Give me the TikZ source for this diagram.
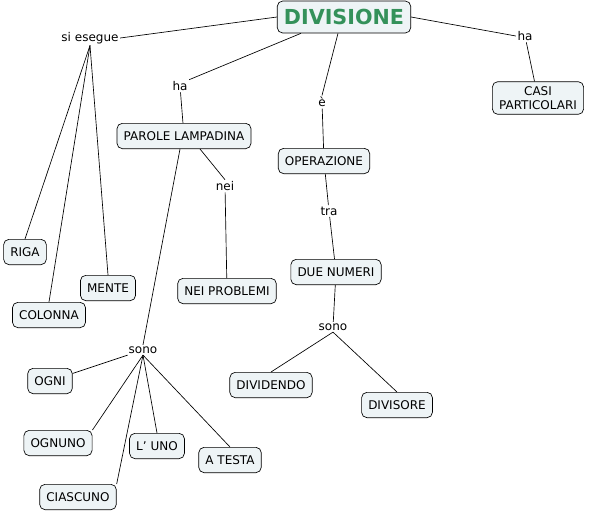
\documentclass[tikz,border=0pt]{standalone}
\usepackage{fontspec}
\setmainfont{DejaVu Sans}[Ligatures=ResetAll]
\definecolor{boxfill}{RGB}{238,244,246}
\definecolor{titlegreen}{RGB}{52,145,90}
\tikzset{
    concept/.style={draw, rounded corners=4pt, fill=boxfill, inner xsep=5pt, minimum height=19pt, font=\fontsize{9}{11}\selectfont, align=center},
    topbox/.style={concept, inner xsep=5pt, minimum height=24pt, font=\fontsize{15.5}{18}\bfseries\selectfont, text=titlegreen},
    link/.style={inner sep=1pt, fill=white, font=\fontsize{9}{11}\selectfont}
}
\begin{document}
\begin{tikzpicture}[x=0.75pt, y=-0.75pt, line width=0.5pt]
        \useasboundingbox (0,0) rectangle (592,512);
        % concetti
        \draw (344,17)node[topbox,name=div]{DIVISIONE};
        \draw (538,98)node[concept,name=casi]{CASI\\PARTICOLARI};
        \draw (184,136)node[concept,name=parole]{PAROLE LAMPADINA};
        \draw (324,161)node[concept,name=oper]{OPERAZIONE};
        \draw (336,272)node[concept,name=numeri]{DUE NUMERI};
        \draw (227,291)node[concept,name=problemi]{NEI PROBLEMI};
        \draw (25,252)node[concept,name=riga]{RIGA};
        \draw (108,288)node[concept,name=mente]{MENTE};
        \draw (49,315)node[concept,name=colonna]{COLONNA};
        \draw (50,381)node[concept,name=ogni]{OGNI};
        \draw (271,385)node[concept,name=dividendo]{DIVIDENDO};
        \draw (397,405)node[concept,name=divisore]{DIVISORE};
        \draw (58,443)node[concept,name=ognuno]{OGNUNO};
        \draw (157,446)node[concept,name=luno]{L' UNO};
        \draw (230,460)node[concept,name=atesta]{A TESTA};
        \draw (78,497)node[concept,name=ciascuno]{CIASCUNO};
        % parole di legame
        \draw (90,38)node[link,name=esegue]{si esegue};
        \draw (525,36)node[link,name=haR]{ha};
        \draw (180,86)node[link,name=haL]{ha};
        \draw (322,102)node[link,name=e]{è};
        \draw (225,186)node[link,name=nei]{nei};
        \draw (329,211)node[link,name=tra]{tra};
        \draw (143,350)node[link,name=sonoL]{sono};
        \draw (333,327)node[link,name=sonoR]{sono};
        % collegamenti
        \draw (div.west) -- (esegue.east);
        \draw (esegue.south) -- (riga.north);
        \draw (esegue.south) -- (colonna.north);
        \draw (esegue.south) -- (mente.north);
        \draw (div.south west) ++(24,0) -- (haL.north east);
        \draw (haL) -- (parole);
        \draw (div.south) ++(-6,0) -- (e.north);
        \draw (e) -- (oper);
        \draw (div.east) -- (haR.west);
        \draw (haR) -- (casi);
        \draw (parole.south) ++(16,0) -- (nei.north);
        \draw (nei) -- (problemi);
        \draw (parole.south) ++(-4,0) -- (sonoL.north);
        \draw (sonoL) -- (ogni);
        \draw (sonoL.south) -- (ognuno.north east);
        \draw (sonoL.south) -- (ciascuno.north east);
        \draw (sonoL.south) -- (luno.north);
        \draw (sonoL.south) -- (atesta.north);
        \draw (oper) -- (tra);
        \draw (tra) -- (numeri);
        \draw (numeri) -- (sonoR);
        \draw (sonoR.south) -- (dividendo.north);
        \draw (sonoR.south) -- (divisore.north);
    \end{tikzpicture}
\end{document}
